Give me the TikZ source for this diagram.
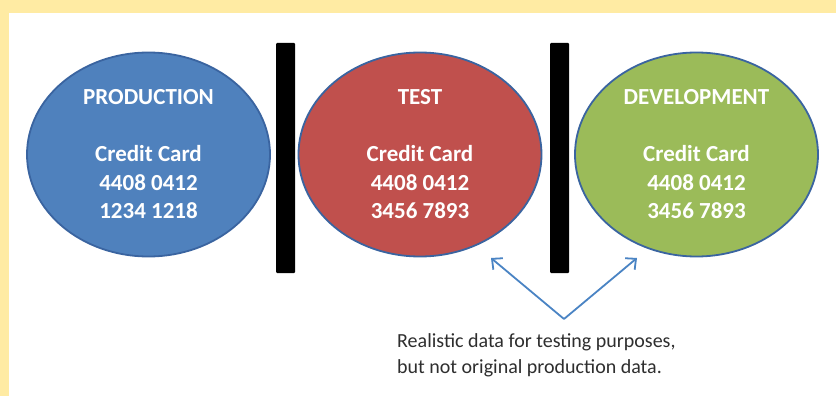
\documentclass[tikz,border=0pt]{standalone}
\usepackage{fontspec}
\setmainfont{Carlito}
\usetikzlibrary{shapes.geometric,arrows.meta}
\definecolor{bgyellow}{HTML}{FFEBA3}
\definecolor{prodblue}{HTML}{4F81BD}
\definecolor{edgeblue}{HTML}{3A64A0}
\definecolor{testred}{HTML}{C0504D}
\definecolor{devgreen}{HTML}{9BBB59}
\definecolor{arrowblue}{HTML}{4A84C4}
\tikzset{
  env/.style={ellipse, draw=edgeblue, line width=1.8pt, minimum width=243pt, minimum height=204pt,
    inner sep=0pt, text=white, align=center, font=\fontsize{23}{28.5}\selectfont\bfseries},
  divider/.style={fill=black, rounded corners=1pt, minimum width=19pt, minimum height=230pt, inner sep=0pt},
  pointer/.style={draw=arrowblue, line width=1.8pt, -{Straight Barb[length=8pt,width=15pt,line width=1.8pt]}},
  note/.style={anchor=north west, align=left, inner sep=0pt, text=black!82, font=\fontsize{20}{26.5}\selectfont}
}
\begin{document}
\begin{tikzpicture}[x=1pt,y=1pt]
\fill[bgyellow] (0,0) rectangle (836,-396);
\fill[white] (9,-13) rectangle (836,-396);
\useasboundingbox (0,0) rectangle (836,-396);
\node[env, fill=prodblue] (prod) at (148.5,-154.5) {PRODUCTION\\[28.5pt]Credit Card\\4408 0412\\1234 1218};
\node[env, fill=testred] (test) at (420,-154.5) {TEST\\[28.5pt]Credit Card\\4408 0412\\3456 7893};
\node[env, fill=devgreen] (dev) at (696.5,-154.5) {DEVELOPMENT\\[28.5pt]Credit Card\\4408 0412\\3456 7893};
\node[divider] (bar1) at (285.5,-158) {};
\node[divider] (bar2) at (559.5,-158) {};
\coordinate (apex) at (564,-319);
\coordinate (tipA) at (491,-258);
\coordinate (tipB) at (637,-258);
\draw[pointer] (apex) -- (tipA);
\draw[pointer] (apex) -- (tipB);
\node[note] (caption) at (397,-333) {Realistic data for testing purposes,\\but not original production data.};
\end{tikzpicture}
\end{document}
